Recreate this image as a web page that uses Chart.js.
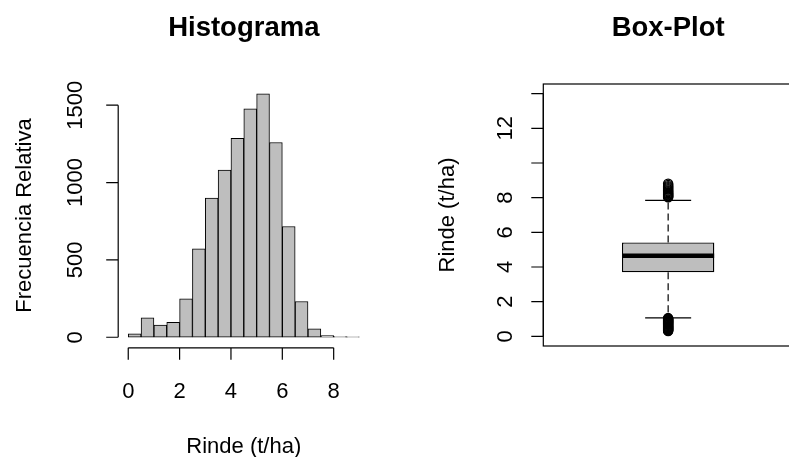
<!DOCTYPE html>
<html>
<head>
<meta charset="utf-8">
<script src="https://cdn.jsdelivr.net/npm/chart.js@4.4.1/dist/chart.umd.min.js"></script>
<style>
  html, body { margin: 0; padding: 0; background: #fff; width: 789px; height: 457px; overflow: hidden; }
  canvas { position: absolute; top: 0; }
  #hist { left: 0; }
  #box { left: 394px; }
</style>
</head>
<body>
<canvas id="hist" width="394" height="457"></canvas>
<canvas id="box" width="400" height="457"></canvas>
<script>
/* Histograma + Box-Plot del rinde (t/ha), estilo graficos base de R. */

// Histograma
const histBreaks = [0, 0.5, 1, 1.5, 2, 2.5, 3, 3.5, 4, 4.5, 5, 5.5, 6, 6.5, 7, 7.5, 8, 8.5, 9];
const histCounts = [22, 125, 78, 97, 248, 571, 899, 1080, 1285, 1477, 1574, 1259, 716, 231, 54, 11, 4, 3];
const histXTicks = [0, 2, 4, 6, 8];
const histYTicks = [0, 500, 1000, 1500];

// Box-plot
const boxLabels = ["Rinde"];
const boxStats = [1.06, 3.69, 4.65, 5.42, 7.84]; // bigote inf, Q1, mediana, Q3, bigote sup
const outHigh = [8.02, 8.06, 8.1, 8.14, 8.18, 8.22, 8.27, 8.32, 8.37, 8.42, 8.48, 8.54, 8.6, 8.66, 8.73, 8.8];
const outLow = [1.05, 1.02, 0.99, 0.96, 0.93, 0.9, 0.87, 0.84, 0.81, 0.78, 0.75, 0.72, 0.69, 0.66,
  0.63, 0.6, 0.57, 0.54, 0.51, 0.48, 0.45, 0.42, 0.39, 0.36, 0.33, 0.3];
const boxYLim = [0, 14];
const boxYTicks = [0, 2, 4, 6, 8, 10, 12, 14];
const boxYTickLabels = ["0", "2", "4", "6", "8", "", "12", ""];

const FONT = '"Liberation Sans", Arial, Helvetica, sans-serif';
const INK = "#000";
const GRAY = "#bebebe";

// rango estilo R: +4% a cada lado
const ext = (lo, hi) => [lo - 0.04 * (hi - lo), hi + 0.04 * (hi - lo)];

function txt(ctx, s, x, y, size, opts = {}) {
  ctx.save();
  ctx.translate(x, y);
  if (opts.rot) ctx.rotate(opts.rot);
  ctx.font = `${opts.bold ? "bold " : ""}${size}px ${FONT}`;
  ctx.fillStyle = INK;
  ctx.textAlign = "center";
  ctx.textBaseline = "alphabetic";
  ctx.fillText(s, 0, 0);
  ctx.restore();
}

// ejes, marco y titulos como en R
const rAxes = {
  id: "rAxes",
  afterDraw(chart, args, o) {
    const { ctx, chartArea: a, scales } = chart;
    const cx = (a.left + a.right) / 2, cy = (a.top + a.bottom) / 2;
    ctx.save();
    ctx.strokeStyle = INK;
    ctx.lineWidth = 1.2;
    if (o.frame) ctx.strokeRect(a.left, a.top, a.right - a.left, a.bottom - a.top);

    if (o.xTicks) {
      const y0 = a.bottom + o.gap;
      const px = o.xTicks.map((v) => scales.x.getPixelForValue(v));
      ctx.beginPath();
      ctx.moveTo(px[0], y0); ctx.lineTo(px[px.length - 1], y0);
      px.forEach((p) => { ctx.moveTo(p, y0); ctx.lineTo(p, y0 + o.tick); });
      ctx.stroke();
      px.forEach((p, i) => txt(ctx, String(o.xTicks[i]), p, o.xLabelY, o.size));
    }
    if (o.yTicks) {
      const x0 = a.left - o.gap;
      const py = o.yTicks.map((v) => scales.y.getPixelForValue(v));
      ctx.beginPath();
      ctx.moveTo(x0, py[0]); ctx.lineTo(x0, py[py.length - 1]);
      py.forEach((p) => { ctx.moveTo(x0, p); ctx.lineTo(x0 - o.tick, p); });
      ctx.stroke();
      const labs = o.yLabels || o.yTicks.map(String);
      py.forEach((p, i) => { if (labs[i]) txt(ctx, labs[i], o.yLabelX, p, o.size, { rot: -Math.PI / 2 }); });
    }
    ctx.restore();

    txt(ctx, o.title, cx, 36, 27.5, { bold: true });
    if (o.xTitle) txt(ctx, o.xTitle, cx, 453, o.size);
    if (o.yTitle) txt(ctx, o.yTitle, o.yTitleX, cy, o.size, { rot: -Math.PI / 2 });
  },
};

const base = {
  responsive: false,
  animation: false,
  devicePixelRatio: 1,
  events: [],
};

// Histograma
const hx = ext(histBreaks[0], histBreaks[histBreaks.length - 1]);
const hy = ext(0, Math.max(...histCounts));
new Chart(document.getElementById("hist"), {
  type: "bar",
  data: {
    datasets: [{
      data: histCounts.map((c, i) => ({ x: (histBreaks[i] + histBreaks[i + 1]) / 2, y: c })),
      backgroundColor: GRAY,
      borderColor: INK,
      borderWidth: 1,
      borderSkipped: false,
      barPercentage: 1,
      categoryPercentage: 1,
    }],
  },
  options: Object.assign({}, base, {
    layout: { autoPadding: false, padding: { left: 119, right: 25.4, top: 84, bottom: 110 } },
    plugins: {
      legend: { display: false },
      tooltip: { enabled: false },
      rAxes: {
        title: "Histograma", xTitle: "Rinde (t/ha)", yTitle: "Frecuencia Relativa",
        xTicks: histXTicks, yTicks: histYTicks,
        size: 22, gap: 0.8, tick: 12, xLabelY: 398, yLabelX: 82, yTitleX: 31,
      },
    },
    scales: {
      x: { type: "linear", display: false, min: hx[0], max: hx[1], afterBuildTicks: (s) => { s.ticks = []; } },
      y: { type: "linear", display: false, min: hy[0], max: hy[1], afterBuildTicks: (s) => { s.ticks = []; } },
    },
  }),
  plugins: [rAxes],
});

// Box-plot
const [wLo, q1, med, q3, wHi] = boxStats;
const by = ext(boxYLim[0], boxYLim[1]);
const pt = (y) => ({ x: boxLabels[0], y });
new Chart(document.getElementById("box"), {
  type: "bar",
  data: {
    labels: boxLabels,
    datasets: [
      { // mediana
        type: "line", order: 0, data: [pt(med)], showLine: false,
        pointStyle: "line", pointRadius: 46, borderColor: INK, pointBorderWidth: 4.5,
      },
      { // caja
        type: "bar", order: 1, data: [[q1, q3]],
        backgroundColor: GRAY, borderColor: INK, borderWidth: 1.4, borderSkipped: false,
        barPercentage: 0.37, categoryPercentage: 1,
      },
      { // bigotes
        type: "line", order: 2, data: [pt(q3), pt(wHi)], borderColor: INK, borderWidth: 1.2,
        borderDash: [7, 4], pointRadius: 0,
      },
      {
        type: "line", order: 2, data: [pt(q1), pt(wLo)], borderColor: INK, borderWidth: 1.2,
        borderDash: [7, 4], pointRadius: 0,
      },
      { // topes
        type: "line", order: 3, data: [pt(wLo), pt(wHi)], showLine: false,
        pointStyle: "line", pointRadius: 23, borderColor: INK, pointBorderWidth: 1.3,
      },
      { // atipicos
        type: "line", order: 4, data: outHigh.concat(outLow).map(pt), showLine: false,
        pointStyle: "circle", pointRadius: 4.6, pointBackgroundColor: "rgba(0,0,0,0)",
        borderColor: INK, pointBorderColor: INK, pointBorderWidth: 1.3,
      },
    ],
  },
  options: Object.assign({}, base, {
    layout: { autoPadding: false, padding: { left: 149.3, right: 1, top: 84, bottom: 111 } },
    plugins: {
      legend: { display: false },
      tooltip: { enabled: false },
      rAxes: {
        frame: true, title: "Box-Plot", yTitle: "Rinde (t/ha)",
        yTicks: boxYTicks, yLabels: boxYTickLabels,
        size: 22, gap: 0, tick: 12, yLabelX: 118, yTitleX: 60,
      },
    },
    scales: {
      x: { type: "category", display: false, offset: true },
      y: { type: "linear", display: false, min: by[0], max: by[1], afterBuildTicks: (s) => { s.ticks = []; } },
    },
  }),
  plugins: [rAxes],
});
</script>
</body>
</html>
